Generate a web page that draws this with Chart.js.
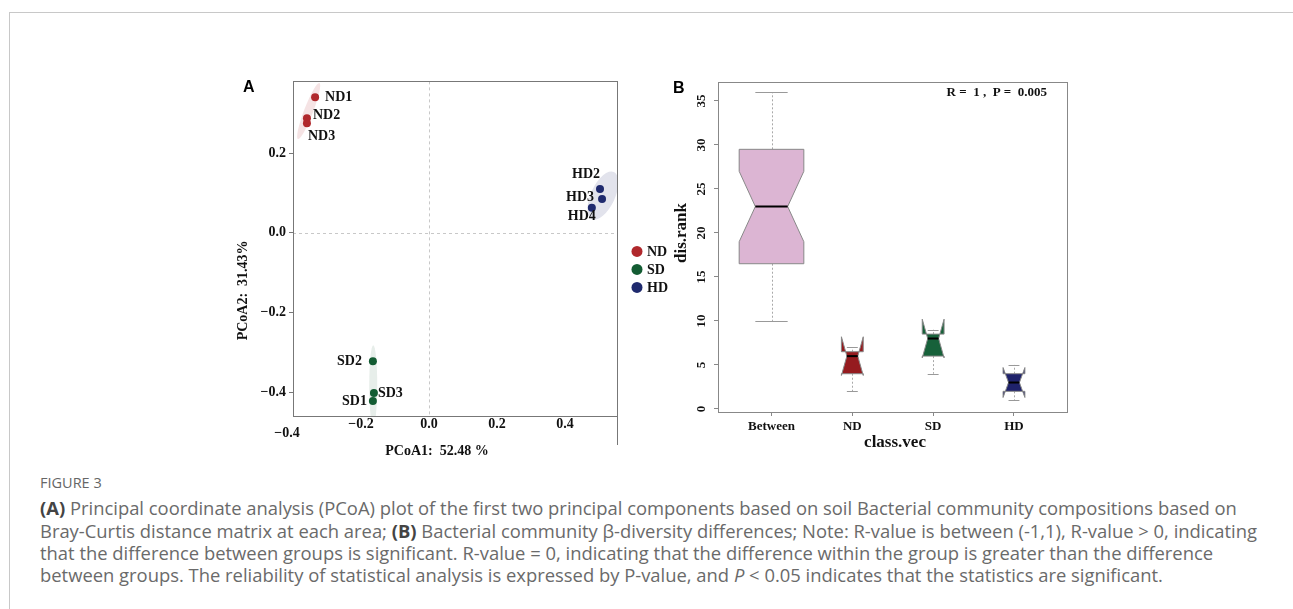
<!DOCTYPE html>
<html>
<head>
<meta charset="utf-8">
<script src="https://cdn.jsdelivr.net/npm/chart.js@4.4.0/dist/chart.umd.min.js"></script>
<style>
  body { margin: 0; background: #fff; width: 1293px; height: 609px; overflow: hidden; position: relative; font-family: "Open Sans", sans-serif; }
  #frame { position: absolute; left: 9px; top: 12px; width: 1290px; height: 610px; border-top: 1px solid #c8c8c8; border-left: 1px solid #c8c8c8; }
  #wrapA { position: absolute; left: 230px; top: 70px; }
  #wrapB { position: absolute; left: 660px; top: 70px; }
  .cap { position: absolute; left: 40px; white-space: nowrap; font-size: 18.4px; line-height: 22px; color: #6a6a6a; }
  .cap b { color: #444; }
  .figno { font-size: 14.5px; color: #666; top: 472px; }
</style>
</head>
<body>
<div id="frame"></div>
<div id="wrapA"><canvas id="pcoa" width="450" height="400"></canvas></div>
<div id="wrapB"><canvas id="anosim" width="440" height="390"></canvas></div>

<div class="cap figno">FIGURE 3</div>
<div class="cap" style="top:497px"><b>(A)</b> Principal coordinate analysis (PCoA) plot of the first two principal components based on soil Bacterial community compositions based on</div>
<div class="cap" style="top:520px">Bray-Curtis distance matrix at each area; <b>(B)</b> Bacterial community β-diversity differences; Note: R-value is between (-1,1), R-value &gt; 0, indicating</div>
<div class="cap" style="top:542px">that the difference between groups is significant. R-value = 0, indicating that the difference within the group is greater than the difference</div>
<div class="cap" style="top:564px">between groups. The reliability of statistical analysis is expressed by P-value, and <i>P</i> &lt; 0.05 indicates that the statistics are significant.</div>

<script>
// ---- panel A data (PCoA) ----
const ndLabels = ['ND1', 'ND2', 'ND3'];
const ndX = [-0.335, -0.359, -0.359];
const ndY = [0.34, 0.2875, 0.275];

const sdLabels = ['SD1', 'SD2', 'SD3'];
const sdX = [-0.165, -0.165, -0.162];
const sdY = [-0.4225, -0.3225, -0.4025];

const hdLabels = ['HD2', 'HD3', 'HD4'];
const hdX = [0.503, 0.509, 0.479];
const hdY = [0.11, 0.085, 0.0625];

const groupNames = ['ND', 'SD', 'HD'];
const pcoaXTicks = [-0.4, -0.2, 0, 0.2, 0.4];
const pcoaYTicks = [-0.4, -0.2, 0, 0.2];

// ---- panel B data (ANOSIM dis.rank) ----
const classes = ['Between', 'ND', 'SD', 'HD'];
const whiskerLow = [10, 2, 4, 1];
const q1 = [16.5, 4, 6, 2];
const medians = [23, 6, 8, 3];
const q3 = [29.5, 6.5, 8.5, 4];
const whiskerHigh = [36, 7, 9, 5];
const notchLow = [19, 3.8, 5.8, 1.3];
const notchHigh = [27, 8.2, 10.2, 4.7];
const rankTicks = [0, 5, 10, 15, 20, 25, 30, 35];

// ---- styles ----
const groupColors = ['#b0282c', '#135c33', '#1f2a6e'];
const ellipseFill = ['rgba(176,40,44,0.13)', 'rgba(19,92,51,0.10)', 'rgba(31,42,110,0.13)'];
// ellipse shape in px: offset from group centroid, radii, rotation (deg)
const ellipseShape = [
    { dx: -1, dy: -2, rx: 4.5, ry: 30, rot: 21 },
    { dx: 0, dy: 0, rx: 4, ry: 40, rot: 0 },
    { dx: 5, dy: -3, rx: 12, ry: 26, rot: 25 }
];
// label offsets from the point, px
const labelPos = {
    ND1: [10, 0, 'left'], ND2: [6, -3, 'left'], ND3: [1, 13, 'left'],
    SD1: [-6, 0, 'right'], SD2: [-11, 0, 'right'], SD3: [4, 0, 'left'],
    HD2: [0, -15, 'right'], HD3: [-8, -2, 'right'], HD4: [4, 9, 'right']
};
const boxFill = ['#dcb5d3', '#951b1f', '#17613a', '#1f226b'];
const boxWidth = [0.8, 0.27, 0.27, 0.27];

const SERIF = '"Liberation Serif", "Times New Roman", serif';
const serifBold = size => `bold ${size}px ${SERIF}`;
const minus = v => String(v.toFixed(1)).replace('-', '\u2212');

Chart.defaults.animation = false;

function mean(a) { return a.reduce((s, v) => s + v, 0) / a.length; }

// ---------------- Panel A ----------------
const pcoaGroups = [
    { labels: ndLabels, x: ndX, y: ndY },
    { labels: sdLabels, x: sdX, y: sdY },
    { labels: hdLabels, x: hdX, y: hdY }
];

const pcoaDecor = {
    id: 'pcoaDecor',
    beforeDatasetsDraw(chart) {
        const { ctx, chartArea: ca, scales: { x, y } } = chart;
        ctx.save();
        // zero lines
        ctx.strokeStyle = '#c8c8c8';
        ctx.lineWidth = 1;
        ctx.setLineDash([3, 3]);
        const x0 = Math.round(x.getPixelForValue(0)) + 0.5;
        const y0 = Math.round(y.getPixelForValue(0)) + 0.5;
        ctx.beginPath();
        ctx.moveTo(x0, ca.top); ctx.lineTo(x0, ca.bottom);
        ctx.moveTo(ca.left, y0); ctx.lineTo(ca.right, y0);
        ctx.stroke();
        ctx.setLineDash([]);
        // confidence ellipses
        ctx.beginPath();
        ctx.rect(ca.left, ca.top, ca.right - ca.left, ca.bottom - ca.top);
        ctx.clip();
        pcoaGroups.forEach((g, i) => {
            const s = ellipseShape[i];
            const cx = x.getPixelForValue(mean(g.x)) + s.dx;
            const cy = y.getPixelForValue(mean(g.y)) + s.dy;
            ctx.fillStyle = ellipseFill[i];
            ctx.beginPath();
            ctx.ellipse(cx, cy, s.rx, s.ry, s.rot * Math.PI / 180, 0, Math.PI * 2);
            ctx.fill();
        });
        ctx.restore();
    },
    afterDraw(chart) {
        const { ctx, chartArea: ca, scales: { x, y } } = chart;
        ctx.save();
        // frame
        ctx.strokeStyle = '#777';
        ctx.lineWidth = 1;
        ctx.strokeRect(Math.round(ca.left) + 0.5, Math.round(ca.top) + 0.5,
            Math.round(ca.right - ca.left), Math.round(ca.bottom - ca.top));
        ctx.beginPath();
        ctx.moveTo(Math.round(ca.right) + 0.5, ca.bottom);
        ctx.lineTo(Math.round(ca.right) + 0.5, ca.bottom + 29);
        ctx.stroke();

        // point labels
        ctx.fillStyle = '#111';
        ctx.font = serifBold(14);
        ctx.textBaseline = 'middle';
        pcoaGroups.forEach(g => {
            g.labels.forEach((lab, k) => {
                const p = labelPos[lab];
                ctx.textAlign = p[2];
                ctx.fillText(lab, x.getPixelForValue(g.x[k]) + p[0], y.getPixelForValue(g.y[k]) + p[1]);
            });
        });

        // first x tick label sits lower-left in the original
        ctx.textAlign = 'center';
        ctx.fillStyle = '#111';
        ctx.fillText(minus(pcoaXTicks[0]), x.getPixelForValue(pcoaXTicks[0]) - 6, ca.bottom + 17);

        // axis titles
        ctx.font = serifBold(14);
        ctx.fillText('PCoA1:  52.48 %', ca.left + 144, ca.bottom + 35);
        ctx.save();
        ctx.translate(13, ca.top + 209);
        ctx.rotate(-Math.PI / 2);
        ctx.fillText('PCoA2:  31.43%', 0, 0);
        ctx.restore();

        // panel letter
        ctx.font = 'bold 16px "Liberation Sans", Arial, sans-serif';
        ctx.textAlign = 'left';
        ctx.fillStyle = '#000';
        ctx.fillText('A', 13, 18);

        // legend
        ctx.font = serifBold(14);
        groupNames.forEach((n, i) => {
            const ly = ca.top + 170 + i * 18;
            ctx.fillStyle = groupColors[i];
            ctx.beginPath();
            ctx.arc(ca.right + 20, ly, 5.5, 0, Math.PI * 2);
            ctx.fill();
            ctx.fillStyle = '#111';
            ctx.fillText(n, ca.right + 30, ly + 1);
        });
        ctx.restore();
    }
};

new Chart(document.getElementById('pcoa'), {
    type: 'scatter',
    data: {
        datasets: pcoaGroups.map((g, i) => ({
            label: groupNames[i],
            data: g.x.map((v, k) => ({ x: v, y: g.y[k] })),
            backgroundColor: groupColors[i],
            borderWidth: 0,
            pointRadius: 4
        }))
    },
    options: {
        responsive: false,
        layout: { padding: { top: 10, right: 63, left: 0, bottom: 0 } },
        plugins: { legend: { display: false }, tooltip: { enabled: false } },
        scales: {
            x: {
                type: 'linear',
                min: -0.4,
                max: 0.553,
                afterBuildTicks: s => { s.ticks = pcoaXTicks.map(v => ({ value: v })); },
                afterFit: s => { s.height = 54; },
                border: { display: false },
                grid: { drawOnChartArea: false, drawTicks: false },
                ticks: {
                    color: '#111',
                    font: { family: SERIF, size: 14, weight: 'bold' },
                    padding: 0,
                    maxRotation: 0,
                    callback: v => (v === pcoaXTicks[0] ? '' : minus(v))
                }
            },
            y: {
                type: 'linear',
                min: -0.46,
                max: 0.38,
                afterBuildTicks: s => { s.ticks = pcoaYTicks.map(v => ({ value: v })); },
                afterFit: s => { s.width = 63; },
                border: { display: false },
                grid: { drawOnChartArea: false, drawTicks: true, tickLength: 4, color: '#777' },
                ticks: {
                    color: '#111',
                    font: { family: SERIF, size: 14, weight: 'bold' },
                    padding: 3,
                    callback: v => minus(v)
                }
            }
        }
    },
    plugins: [pcoaDecor]
});

// ---------------- Panel B ----------------
const boxDecor = {
    id: 'boxDecor',
    afterDatasetsDraw(chart) {
        const { ctx, scales: { x, y } } = chart;
        ctx.save();
        classes.forEach((c, i) => {
            const xc = x.getPixelForValue(i + 1);
            const half = (x.getPixelForValue(i + 1 + boxWidth[i] / 2) - xc);
            const xl = xc - half, xr = xc + half;
            const py = v => y.getPixelForValue(v);
            // whiskers
            ctx.strokeStyle = '#a8a8a8';
            ctx.lineWidth = 1;
            ctx.setLineDash([2, 2]);
            ctx.beginPath();
            ctx.moveTo(Math.round(xc) + 0.5, py(q3[i])); ctx.lineTo(Math.round(xc) + 0.5, py(whiskerHigh[i]));
            ctx.moveTo(Math.round(xc) + 0.5, py(q1[i])); ctx.lineTo(Math.round(xc) + 0.5, py(whiskerLow[i]));
            ctx.stroke();
            ctx.setLineDash([]);
            ctx.strokeStyle = '#999';
            ctx.beginPath();
            ctx.moveTo(xc - half / 2, Math.round(py(whiskerHigh[i])) + 0.5); ctx.lineTo(xc + half / 2, Math.round(py(whiskerHigh[i])) + 0.5);
            ctx.moveTo(xc - half / 2, Math.round(py(whiskerLow[i])) + 0.5); ctx.lineTo(xc + half / 2, Math.round(py(whiskerLow[i])) + 0.5);
            ctx.stroke();
            // notched box (R bxp polygon)
            const inset = half * 0.5;
            ctx.beginPath();
            ctx.moveTo(xl, py(q1[i]));
            ctx.lineTo(xl, py(notchLow[i]));
            ctx.lineTo(xl + inset, py(medians[i]));
            ctx.lineTo(xl, py(notchHigh[i]));
            ctx.lineTo(xl, py(q3[i]));
            ctx.lineTo(xr, py(q3[i]));
            ctx.lineTo(xr, py(notchHigh[i]));
            ctx.lineTo(xr - inset, py(medians[i]));
            ctx.lineTo(xr, py(notchLow[i]));
            ctx.lineTo(xr, py(q1[i]));
            ctx.closePath();
            ctx.fillStyle = boxFill[i];
            ctx.fill();
            ctx.strokeStyle = '#888';
            ctx.stroke();
            // median
            ctx.strokeStyle = '#000';
            ctx.lineWidth = 2;
            ctx.beginPath();
            ctx.moveTo(xl + inset, py(medians[i]));
            ctx.lineTo(xr - inset, py(medians[i]));
            ctx.stroke();
        });
        ctx.restore();
    },
    afterDraw(chart) {
        const { ctx, chartArea: ca, scales: { y } } = chart;
        ctx.save();
        ctx.strokeStyle = '#888';
        ctx.lineWidth = 1;
        ctx.strokeRect(Math.round(ca.left) + 0.5, Math.round(ca.top) + 0.5,
            Math.round(ca.right - ca.left), Math.round(ca.bottom - ca.top));
        // rotated y tick labels
        ctx.fillStyle = '#111';
        ctx.font = serifBold(13);
        ctx.textAlign = 'center';
        ctx.textBaseline = 'middle';
        rankTicks.forEach(t => {
            ctx.save();
            ctx.translate(ca.left - 16, y.getPixelForValue(t));
            ctx.rotate(-Math.PI / 2);
            ctx.fillText(String(t), 0, 0);
            ctx.restore();
        });
        // axis titles
        ctx.font = serifBold(17);
        ctx.fillText('class.vec', 235, 373);
        ctx.save();
        ctx.translate(22, 163);
        ctx.rotate(-Math.PI / 2);
        ctx.fillText('dis.rank', 0, 0);
        ctx.restore();
        // statistic
        ctx.font = serifBold(13);
        ctx.textAlign = 'right';
        ctx.fillText('R =  1 ,  P =  0.005', ca.right - 20, ca.top + 11);
        // panel letter
        ctx.font = 'bold 16px "Liberation Sans", Arial, sans-serif';
        ctx.textAlign = 'left';
        ctx.fillStyle = '#000';
        ctx.fillText('B', 13, 19);
        ctx.restore();
    }
};

new Chart(document.getElementById('anosim'), {
    type: 'scatter',
    data: {
        datasets: [{
            label: 'median',
            data: medians.map((m, i) => ({ x: i + 1, y: m })),
            pointRadius: 0
        }]
    },
    options: {
        responsive: false,
        layout: { padding: { top: 12, right: 33, left: 0, bottom: 0 } },
        plugins: { legend: { display: false }, tooltip: { enabled: false } },
        scales: {
            x: {
                type: 'linear',
                min: 0.338,
                max: 4.656,
                afterBuildTicks: s => { s.ticks = classes.map((c, i) => ({ value: i + 1 })); },
                afterFit: s => { s.height = 48; },
                border: { display: false },
                grid: { drawOnChartArea: false, drawTicks: true, tickLength: 4, color: '#888' },
                ticks: {
                    color: '#111',
                    font: { family: SERIF, size: 13, weight: 'bold' },
                    padding: 3,
                    maxRotation: 0,
                    callback: v => classes[v - 1]
                }
            },
            y: {
                type: 'linear',
                min: -0.35,
                max: 37.15,
                afterBuildTicks: s => { s.ticks = rankTicks.map(v => ({ value: v })); },
                afterFit: s => { s.width = 58; },
                border: { display: false },
                grid: { drawOnChartArea: false, drawTicks: true, tickLength: 4, color: '#888' },
                ticks: { display: false }
            }
        }
    },
    plugins: [boxDecor]
});
</script>
</body>
</html>
